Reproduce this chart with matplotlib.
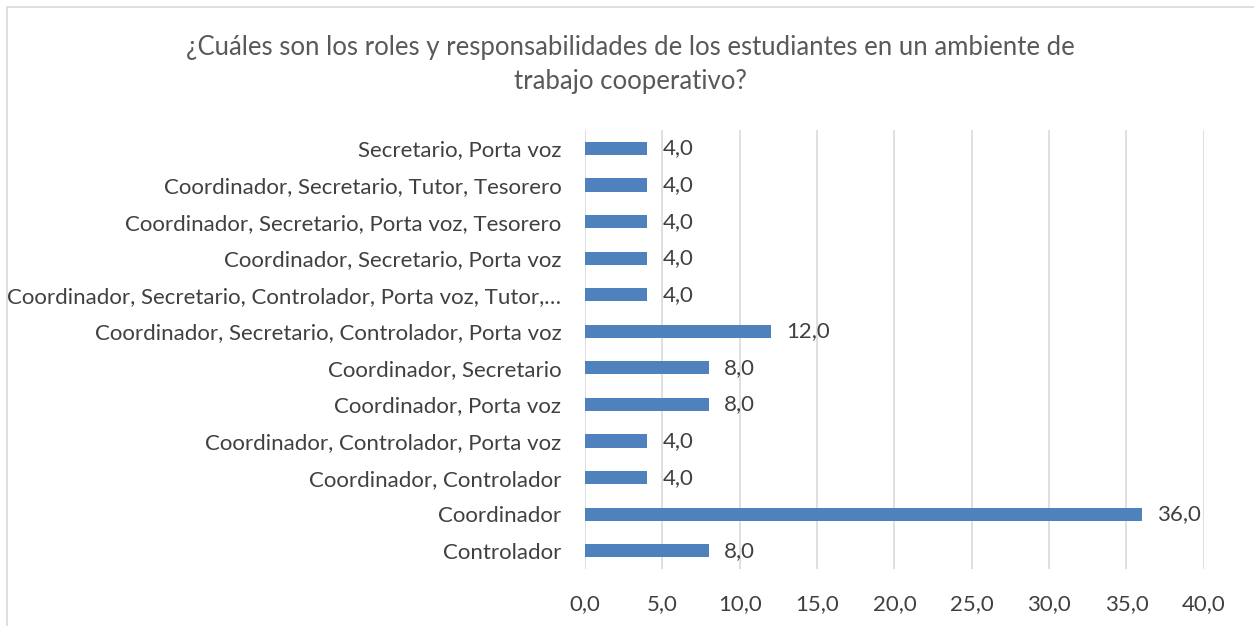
import matplotlib.pyplot as plt
from matplotlib.patches import Rectangle

categories = [
    "Controlador",
    "Coordinador",
    "Coordinador, Controlador",
    "Coordinador, Controlador, Porta voz",
    "Coordinador, Porta voz",
    "Coordinador, Secretario",
    "Coordinador, Secretario, Controlador, Porta voz",
    "Coordinador, Secretario, Controlador, Porta voz, Tutor,…",
    "Coordinador, Secretario, Porta voz",
    "Coordinador, Secretario, Porta voz, Tesorero",
    "Coordinador, Secretario, Tutor, Tesorero",
    "Secretario, Porta voz",
]
values = [8.0, 36.0, 4.0, 4.0, 8.0, 8.0, 12.0, 4.0, 4.0, 4.0, 4.0, 4.0]
xticks = [0, 5, 10, 15, 20, 25, 30, 35, 40]

plt.rcParams['font.family'] = ['Lato', 'DejaVu Sans']
text_col = '#404040'

fig = plt.figure(figsize=(12.54, 6.26), dpi=100)
ax = fig.add_axes([0.4665, 0.091, 0.4935, 0.701])

y = range(len(categories))
ax.barh(y, values, height=0.36, color='#4F81BD', zorder=3)
for i, v in enumerate(values):
    ax.text(v + 1.0, i, f"{v:.1f}".replace('.', ','), va='center', ha='left',
            fontsize=16, color=text_col)

ax.set_xlim(0, 40)
ax.set_ylim(-0.5, len(categories) - 0.5)
ax.set_xticks(xticks)
ax.set_xticklabels([f"{t:.1f}".replace('.', ',') for t in xticks], fontsize=16, color=text_col)
ax.set_yticks(list(y))
ax.set_yticklabels(categories, fontsize=16, color=text_col)
ax.tick_params(axis='both', length=0)
ax.tick_params(axis='x', pad=18)
ax.tick_params(axis='y', pad=17)
ax.grid(axis='x', color='#D9D9D9', linewidth=1.2, zorder=0)
for s in ax.spines.values():
    s.set_visible(False)

fig.text(0.503, 0.897, "¿Cuáles son los roles y responsabilidades de los estudiantes en un ambiente de\ntrabajo cooperativo?",
         ha='center', va='center', fontsize=18.5, color='#595959', linespacing=1.45)

fig.patches.append(Rectangle((7 / 1254, -0.05), 1.1, 1 - 7 / 626 + 0.05, transform=fig.transFigure,
                             fill=False, edgecolor='#D9D9D9', linewidth=1.2))

fig.savefig('out.png', dpi=100)
